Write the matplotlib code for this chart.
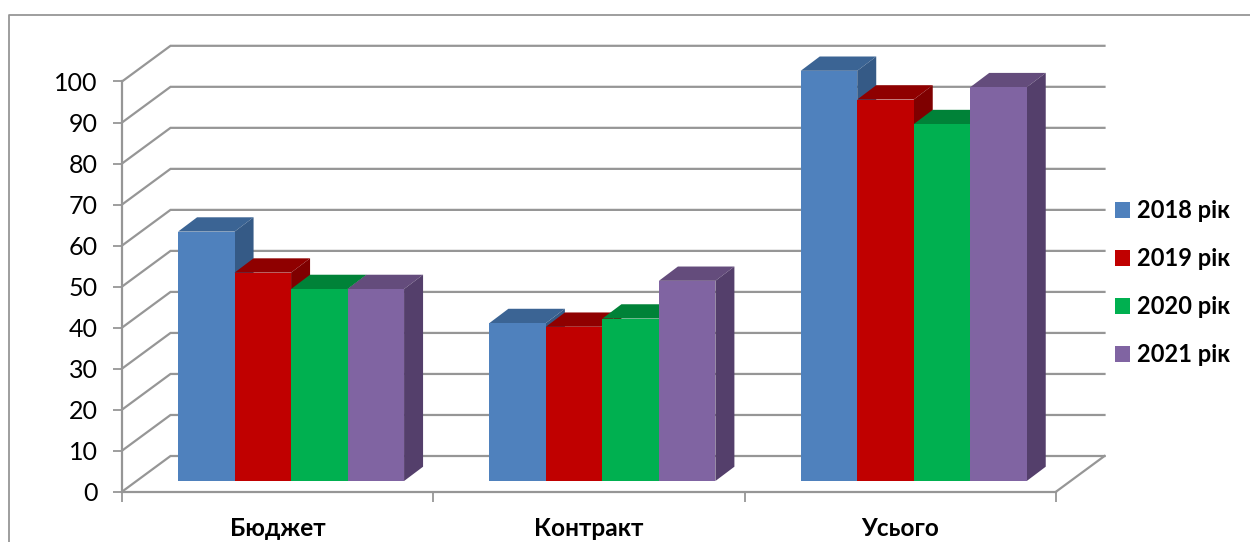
import matplotlib
matplotlib.use("Agg")
import matplotlib.pyplot as plt
from matplotlib.lines import Line2D
from matplotlib.patches import Polygon

categories = ["Бюджет", "Контракт", "Усього"]
series_names = ["2018 рік", "2019 рік", "2020 рік", "2021 рік"]
values_2018 = [60.8, 38.5, 100]
values_2019 = [50.8, 37.6, 93]
values_2020 = [46.8, 39.6, 87]
values_2021 = [46.8, 48.8, 96]
series_values = [values_2018, values_2019, values_2020, values_2021]
front_colors = ["#4F81BD", "#C00000", "#00B050", "#8064A2"]
top_colors = ["#3B6494", "#8F0000", "#008238", "#644C7C"]
side_colors = ["#355A86", "#7F0000", "#006F30", "#543F6B"]
y_ticks = list(range(0, 101, 10))

W, H = 1250, 542
X0, X1, Y0, Y1 = 122, 1056, 491.7, 81.5
GREY = "#969696"

fig = plt.figure(figsize=(W / 100, H / 100), dpi=100, facecolor="white")
ax = fig.add_axes([X0 / W, 1 - Y0 / H, (X1 - X0) / W, (Y0 - Y1) / H])
ax.set_xlim(-0.5, 2.5)
ax.set_ylim(0, 100)
ax.patch.set_alpha(0)

ux = (X1 - X0) / 3      # px per category
uy = (Y0 - Y1) / 100    # px per value unit
wall_dx = 48.5 / ux
wall_dy = 35.7 / uy
base_dx = 13.4 / ux
base_dy = 10.7 / uy
depth_dx = 19 / ux
depth_dy = 14.3 / uy
bar_w = 56.5 / ux

# walls
for v in y_ticks:
    ax.plot([-0.5, -0.5 + wall_dx, 2.5 + wall_dx], [v, v + wall_dy, v + wall_dy],
            color=GREY, lw=1.6, clip_on=False, zorder=1, solid_joinstyle="miter")
ax.plot([2.5, 2.5 + wall_dx], [0, wall_dy], color=GREY, lw=1.6, clip_on=False, zorder=1)

# bars
for i, (name, vals) in enumerate(zip(series_names, series_values)):
    xs = [c + (i - 2) * bar_w + base_dx for c in range(len(categories))]
    for x, v in zip(xs, vals):
        top = v + base_dy
        ax.add_patch(Polygon([(x, top), (x + bar_w, top),
                              (x + bar_w + depth_dx, top + depth_dy), (x + depth_dx, top + depth_dy)],
                             closed=True, fc=top_colors[i], ec="none", clip_on=False, zorder=3 + i))
        ax.add_patch(Polygon([(x + bar_w, base_dy), (x + bar_w, top),
                              (x + bar_w + depth_dx, top + depth_dy),
                              (x + bar_w + depth_dx, base_dy + depth_dy)],
                             closed=True, fc=side_colors[i], ec="none", clip_on=False, zorder=3 + i))
    ax.bar(xs, vals, width=bar_w, bottom=base_dy, align="edge", color=front_colors[i],
           label=name, zorder=3.5 + i, clip_on=False)

# axes
for s in ("top", "right"):
    ax.spines[s].set_visible(False)
for s in ("left", "bottom"):
    ax.spines[s].set_color(GREY)
    ax.spines[s].set_linewidth(1.6)
ax.set_yticks(y_ticks)
ax.set_xticks(range(len(categories)))
ax.set_xticklabels(categories)
ax.set_xticks([-0.5, 0.5, 1.5, 2.5], minor=True)
ax.tick_params(axis="y", length=6.5, width=1.3, color=GREY, pad=11, labelsize=18,
               labelfontfamily="Lato")
ax.tick_params(axis="x", which="major", length=0, pad=18.5, labelsize=17.6, labelfontfamily="Lato")
ax.tick_params(axis="x", which="minor", length=7, width=1.3, color=GREY)
for t in ax.get_xticklabels():
    t.set_fontweight("bold")

# legend
handles, labels = ax.get_legend_handles_labels()
leg = fig.legend(handles, labels, loc="upper left", bbox_to_anchor=(1108 / W, 1 - 192 / H),
                 frameon=False, prop={"family": "Lato", "weight": "bold", "size": 17},
                 handlelength=0.635, handleheight=0.635, handletextpad=0.3,
                 labelspacing=1.06, borderpad=0.3, borderaxespad=0)

# outer frame
fig.add_artist(Line2D([8.5 / W, 8.5 / W, 1], [0, 1 - 15 / H, 1 - 15 / H], color=GREY, lw=1.3))

fig.savefig("out.png", dpi=100)
